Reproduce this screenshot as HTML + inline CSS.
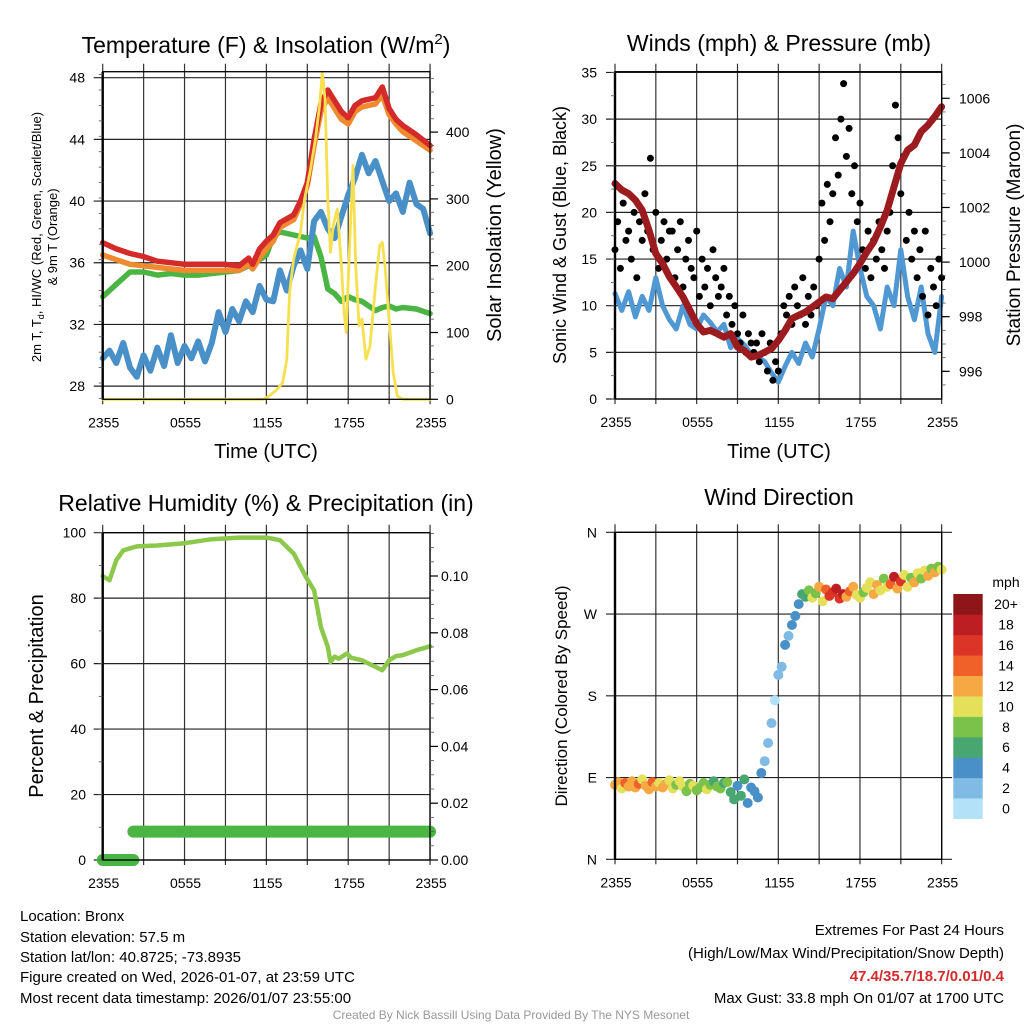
<!DOCTYPE html>
<html><head><meta charset="utf-8"><style>
html,body{margin:0;padding:0;background:#fff;}
svg{display:block;font-family:"Liberation Sans",Arial,sans-serif;}
</style></head><body>
<svg id="chart" width="1024" height="1024" viewBox="0 0 1024 1024" xmlns="http://www.w3.org/2000/svg">
<rect x="0" y="0" width="1024" height="1024" fill="#fff"/>
<g id="grids"></g>
<g id="series"></g>
<g id="frames"></g>
<g id="labels" font-size="14" fill="#000">
  <text x="266" y="53" font-size="23" text-anchor="middle">Temperature (F) &amp; Insolation (W/m<tspan dy="-9" font-size="15">2</tspan><tspan dy="9">)</tspan></text>
  <text transform="translate(41,237) rotate(-90)" font-size="13" text-anchor="middle">2m T, T<tspan dy="3" font-size="9">d</tspan><tspan dy="-3">, HI/WC (Red, Green, Scarlet/Blue)</tspan></text>
  <text transform="translate(57,237) rotate(-90)" font-size="13" text-anchor="middle">&amp; 9m T (Orange)</text>
  <text transform="translate(501,235) rotate(-90)" font-size="20" text-anchor="middle">Solar Insolation (Yellow)</text>
  <text x="266" y="458" font-size="20" text-anchor="middle">Time (UTC)</text>

  <text x="779" y="51" font-size="23" text-anchor="middle">Winds (mph) &amp; Pressure (mb)</text>
  <text transform="translate(566,235) rotate(-90)" font-size="18" text-anchor="middle">Sonic Wind &amp; Gust (Blue, Black)</text>
  <text transform="translate(1020,235) rotate(-90)" font-size="19" text-anchor="middle">Station Pressure (Maroon)</text>
  <text x="779" y="458" font-size="20" text-anchor="middle">Time (UTC)</text>

  <text x="266" y="511" font-size="23" text-anchor="middle">Relative Humidity (%) &amp; Precipitation (in)</text>
  <text transform="translate(43,696) rotate(-90)" font-size="20" text-anchor="middle">Percent &amp; Precipitation</text>

  <text x="779" y="505" font-size="23" text-anchor="middle">Wind Direction</text>
  <text transform="translate(567,696) rotate(-90)" font-size="17" text-anchor="middle">Direction (Colored By Speed)</text>
  <text x="1006" y="587" font-size="14" text-anchor="middle">mph</text>

  <g font-size="15">
  <text x="20" y="921">Location: Bronx</text>
  <text x="20" y="942">Station elevation: 57.5 m</text>
  <text x="20" y="962">Station lat/lon: 40.8725; -73.8935</text>
  <text x="20" y="982">Figure created on Wed, 2026-01-07, at 23:59 UTC</text>
  <text x="20" y="1003">Most recent data timestamp: 2026/01/07 23:55:00</text>
  <text x="1004" y="935" text-anchor="end">Extremes For Past 24 Hours</text>
  <text x="1004" y="958" text-anchor="end">(High/Low/Max Wind/Precipitation/Snow Depth)</text>
  <text x="1004" y="981" text-anchor="end" fill="#d42a2a" font-weight="bold">47.4/35.7/18.7/0.01/0.4</text>
  <text x="1004" y="1003" text-anchor="end">Max Gust: 33.8 mph On 01/07 at 1700 UTC</text>
  </g>
  <text x="511" y="1019" font-size="12" fill="#999" text-anchor="middle">Created By Nick Bassill Using Data Provided By The NYS Mesonet</text>
</g>
<g id="ticklabels" font-size="14"></g>
<g id="colorbar"></g>
</svg>
<script>
// ---------- DATA ----------
var xTickLabels = ["2355","0555","1155","1755","2355"];
var tempTicks = [28,32,36,40,44,48];
var solarTicks = [0,100,200,300,400];
var windTicks = [0,5,10,15,20,25,30,35];
var pressTicks = [996,998,1000,1002,1004,1006];
var rhTicks = [0,20,40,60,80,100];
var precipTicks = [0.00,0.02,0.04,0.06,0.08,0.10];
var dirTicks = [0,90,180,270,360];
var dirTickLabels = ["N","E","S","W","N"];
var speedBins = ["0","2","4","6","8","10","12","14","16","18","20+"];
var speedColors = ["#b3e1f7","#7fbbe4","#4a90c8","#48a671","#7bc24a","#e5e05a","#f6a943","#ef6128","#dc3527","#bd1e24","#8e1518"];

// Temperature panel (hours from 2355 UTC)
var tempHours = [0,1,2,3,4,5,6,7,8,9,10,10.7,11,11.5,12,12.5,13,14,14.5,15,15.5,16,16.5,17,17.5,18,18.5,19,20,20.5,21,21.5,22,23,24];
var tempRed =   [37.3,36.9,36.6,36.4,36.1,36.0,35.9,35.9,35.9,35.9,35.8,36.3,35.9,36.9,37.4,37.8,38.6,39.1,40.0,41.2,44.0,46.3,47.2,46.5,45.8,45.4,46.2,46.5,46.7,47.4,46.0,45.3,44.9,44.3,43.6];
var tempOrange =[36.5,36.2,35.9,35.8,35.7,35.6,35.5,35.5,35.5,35.5,35.5,35.9,35.6,36.3,36.9,37.4,38.3,38.8,39.8,41.0,43.6,45.8,46.7,46.0,45.3,45.0,45.8,46.1,46.3,46.9,45.6,45.0,44.5,43.9,43.3];
var dewGreen =  [33.8,34.6,35.4,35.4,35.2,35.3,35.2,35.2,35.3,35.4,35.5,35.8,36.0,36.2,36.5,37.7,38.0,37.8,37.7,37.6,37.7,36.4,34.3,34.0,33.5,33.8,33.6,33.5,32.9,33.1,33.2,33.0,33.1,33.0,32.7];
var blueHours = [0,0.5,1,1.5,2,2.5,3,3.5,4,4.5,5,5.5,6,6.5,7,7.5,8,8.5,9,9.5,10,10.5,11,11.5,12,12.5,13,13.5,14,14.5,15,15.5,16,16.5,17,17.5,18,18.5,19,19.5,20,20.5,21,21.5,22,22.5,23,23.5,24];
var scarletBlue = [29.8,30.3,29.5,30.8,29.2,28.6,30.0,29.0,30.5,29.3,31.3,29.5,30.6,29.8,30.9,29.6,30.8,32.8,31.5,33.0,32.2,33.5,32.8,34.5,33.6,33.5,35.5,34.2,35.8,36.8,35.6,38.7,39.3,38.2,37.6,39.0,40.4,41.5,43.0,41.8,42.6,41.3,40.0,40.5,39.3,41.2,39.8,39.5,37.9];
var solarHours = [0,11.8,12.2,12.8,13.2,13.5,13.7,14,14.5,14.8,15.2,15.6,15.9,16.1,16.3,16.5,16.7,16.9,17.2,17.5,17.7,17.85,18.1,18.35,18.55,18.8,19.0,19.3,19.6,20.0,20.3,20.5,20.7,21.0,21.3,21.6,22,24];
var solarVals =  [0,0,5,15,25,60,160,210,250,300,340,390,440,490,450,300,220,260,285,200,130,100,230,350,200,110,120,60,80,170,230,235,200,120,40,5,0,0];

// Wind panel
var windSpeed = [11.3,9.5,11.5,8.8,11,9.5,13,10,8.5,7.5,10,8,7.5,9,8.2,7.2,8,5.5,6.5,5.8,4.8,4.5,4,2.8,1.8,3.5,5,3.8,6,4.5,7.5,11,10,14,12,18,14,11,10,7.5,12,10,16,11,8.5,12,7,5,11];
var pressure = [1002.88,1002.64,1002.51,1002.27,1001.90,1001.17,1000.31,999.95,999.46,999.10,998.72,998.23,997.74,997.44,997.50,997.38,997.25,997.38,996.89,996.76,996.52,996.58,996.70,996.83,997.13,997.50,997.93,998.05,998.17,998.35,998.54,998.72,998.66,998.97,999.27,999.58,999.95,1000.37,1000.74,1001.29,1001.90,1002.76,1003.61,1004.10,1004.29,1004.78,1005.02,1005.33,1005.69];
var gust = [16,19,14,21,17,18,15,20,13,19,17,
  22,18,25.8,16,20,14,17,19,15,18,
  18,13,16,19,12,15,17,14,13,18,
  11,15,12,14,10,16,13,11,12,14,
  9,11,8,10,7,6,9,5,7,6,
  5,6,4,7,5,3,6,2,4,3,
  7,10,9,11,8,12,10,9,13,8,
  11,9,12,10,15,21,17,23,19,22,
  28,24,30,33.8,26,29,22,25,19,21,
  16,14,18,13,17,15,19,16,14,18,
  20,25,31.5,28,22,26,17,20,15,18,
  13,16,11,18,9,14,12,10,15,13];

// Humidity panel
var rhHours = [0,0.5,1,1.5,2.5,4,6,8,10,12,13,14,14.9,15.5,16,16.5,16.7,17,17.3,17.9,18.2,19,19.5,20,20.5,21,21.5,22,23,24];
var rhVals =  [86.7,85.5,91.6,94.6,95.8,96.1,96.8,98,98.5,98.5,97.7,93.6,86.5,82.4,71.2,65.1,60.5,62.1,61.5,63.1,61.8,61,60,59,58,61,62.3,62.6,64.1,65.3];
var precipHours = [0,0.5,1,1.5,2,2.25,24];
var precipVals =  [0,0,0,0,0,0.01,0.01];

// Wind direction panel (every 0.25 h)
var dirVals = [82,85,78,84,80,86,79,83,88,
  81,77,85,80,84,79,83,87,
  78,82,86,80,75,83,81,76,
  79,84,77,82,86,80,78,84,
  85,74,66,81,70,88,62,79,
  75,68,95,108,128,150,175,203,
  212,236,246,258,268,281,292,289,
  296,288,293,300,284,297,290,294,
  298,287,292,289,295,300,291,288,
  294,299,305,292,302,296,309,300,
  303,311,298,306,313,300,310,305,
  315,309,318,312,320,316,322,319];
var dirSpeed = [11,12,10,13,12,11,12,13,10,
  12,11,13,12,10,12,11,9,
  9,8,10,9,8,7,9,8,
  8,7,9,8,6,7,8,6,
  7,5,6,4,6,5,4,3,
  4,3,3,2,2,1,0.5,2,
  2,3,2,4,3,4,5,6,
  7,9,8,12,10,14,16,15,
  17,16,18,12,14,11,10,9,
  8,10,9,11,12,10,8,9,
  14,17,12,15,9,10,8,11,
  9,7,10,11,8,12,7,9];

// ---------- SCALES ----------
function X1(h){return 102.7+h*13.64;}
function X2(h){return 615+h*13.61;}
function Yt(t){return 77.7+(48-t)*15.42;}
function Ys(w){return 399.3-w*0.668;}
function Yw(s){return 399-s*9.33;}
function Yp(p){return 98.3+(1006-p)*27.3;}
function Yrh(v){return 860-v*3.273;}
function Ypr(v){return 860-v*2840;}
function Yd(d){return 859.3-d*0.9083;}

var NS="http://www.w3.org/2000/svg";
function el(tag,attrs,parent){var e=document.createElementNS(NS,tag);for(var k in attrs)e.setAttribute(k,attrs[k]);parent.appendChild(e);return e;}
var grids=document.getElementById('grids'),series=document.getElementById('series'),frames=document.getElementById('frames'),tl=document.getElementById('ticklabels'),cb=document.getElementById('colorbar');

function line(x1,y1,x2,y2,parent,w,col){return el('line',{x1:x1,y1:y1,x2:x2,y2:y2,stroke:col||'#000','stroke-width':w||1},parent);}

function panel(L,R,T,B,X,name){
  var g=el('g',{},grids);
  
  
  for(var i=0;i<=8;i++){var x=X(i*3);line(x,T-8,x,B+5,g,1.2,'#333');}
  var f=el('rect',{x:L,y:T,width:R-L,height:B-T,fill:'none',stroke:'#000','stroke-width':1.3},frames);
  
  
  line(L,T,L,B,frames,2.4);
  for(var j=0;j<xTickLabels.length;j++){
    var t=el('text',{x:X(j*6)+1,y:B+28,'text-anchor':'middle'},tl);t.textContent=xTickLabels[j];
    
    
  }
}
function hgrid(vals,Y,L,R,g){for(var i=0;i<vals.length;i++){var y=Y(vals[i]);line(L-9,y,R,y,g,1.2,'#222');}}
function leftLabels(vals,Y,x,name,fmt){for(var i=0;i<vals.length;i++){var t=el('text',{x:x,y:Y(vals[i])+5,'text-anchor':'end'},tl);t.textContent=fmt?fmt(vals[i]):vals[i];
  
  }}
function rightLabels(vals,Y,x,R,name,fmt){for(var i=0;i<vals.length;i++){var y=Y(vals[i]);line(R,y,R+8,y,frames,1.2);var t=el('text',{x:x,y:y+5,'text-anchor':'start'},tl);t.textContent=fmt?fmt(vals[i]):vals[i];
  
  }}
function minor(a,b,step,Y,x,dir){for(var v=a;v<=b+1e-9;v+=step){var y=Y(v);line(x,y,x+dir*4,y,frames,0.8,'#555');}}
function poly(xs,ys,X,Y,col,w,name){var p='';for(var i=0;i<xs.length;i++){p+=(i?'L':'M')+X(xs[i]).toFixed(1)+','+Y(ys[i]).toFixed(1);}
  var e=el('path',{d:p,fill:'none',stroke:col,'stroke-width':w,'stroke-linejoin':'round','stroke-linecap':'round'},series);
  
  
  return e;}

// Panel 1
panel(102.7,430,71.7,399.3,X1,'temperature');
hgrid(tempTicks,Yt,102.7,430,grids);
minor(27.2,48.6,1,Yt,102.7,-1);
minor(0,480,20,Ys,430,1);
leftLabels(tempTicks,Yt,85,'temperature-y');
rightLabels(solarTicks,Ys,446,430,'solar-y');
poly(tempHours,dewGreen,X1,Yt,'#4bb543',5.5,'dewpoint-green-line');
poly(blueHours,scarletBlue,X1,Yt,'#4a90c8',6,'heat-index-blue-line');
poly(tempHours,tempOrange,X1,Yt,'#f08a30',5.5,'temp-9m-orange-line');
poly(tempHours,tempRed,X1,Yt,'#d42a2a',5.5,'temp-2m-red-line');
poly(solarHours,solarVals,X1,Ys,'#f7e04f',2.8,'solar-insolation-line');

// Panel 2
panel(615,941.7,71.7,399,X2,'winds');
hgrid(windTicks,Yw,615,941.7,grids);
minor(0,35,2.5,Yw,615,-1);
minor(995.5,1006.5,0.5,Yp,941.7,1);
leftLabels(windTicks,Yw,597,'wind-y');
rightLabels(pressTicks,Yp,959,941.7,'pressure-y');
var wh=[];for(var i=0;i<windSpeed.length;i++)wh.push(i*0.5);
poly(wh,windSpeed,X2,Yw,'#4f98d4',5,'sonic-wind-line');
for(var i=0;i<gust.length;i++){
  var c=el('circle',{cx:X2(i*0.2).toFixed(1),cy:Yw(gust[i]).toFixed(1),r:3.5,fill:'#000'},series);
  
  
}
var ph=[];for(var i=0;i<pressure.length;i++)ph.push(i*0.5);
poly(ph,pressure,X2,Yp,'#9b1b1e',7,'pressure-line');

// Panel 3
panel(102.7,430,532.7,860,X1,'humidity');
hgrid(rhTicks,Yrh,102.7,430,grids);
minor(0,100,10,Yrh,102.7,-1);
minor(0,0.115,0.005,Ypr,430,1);
leftLabels(rhTicks,Yrh,86,'humidity-y');
rightLabels(precipTicks,Ypr,441,430,'precip-y',function(v){return v.toFixed(2);});
poly(rhHours,rhVals,X1,Yrh,'#8cc84b',4.5,'relative-humidity-line');
for(var i=0;i<precipHours.length-1;i++){
  var s=el('line',{x1:X1(precipHours[i]),y1:Ypr(precipVals[i]),x2:X1(precipHours[i+1]),y2:Ypr(precipVals[i]),stroke:'#4bb543','stroke-width':12,'stroke-linecap':'round'},series);
  
  
}

// Panel 4
panel(615,941.7,532.3,859.3,X2,'direction');
hgrid(dirTicks,Yd,615,952,grids);
for(var i=0;i<dirTicks.length;i++){var t=el('text',{x:597,y:Yd(dirTicks[i])+5,'text-anchor':'end'},tl);t.textContent=dirTickLabels[i];
  
  }
function colorFor(s){var k=Math.min(10,Math.max(0,Math.round(s/2)));return speedColors[k];}
for(var i=0;i<dirVals.length;i++){
  var c=el('circle',{cx:X2(i*0.25).toFixed(1),cy:Yd(dirVals[i]).toFixed(1),r:5,fill:colorFor(dirSpeed[i])},series);
  
  
}
var bh=(818.7-594)/speedBins.length;
for(var i=0;i<speedBins.length;i++){
  var y=818.7-(i+1)*bh;
  var r=el('rect',{x:953.3,y:y.toFixed(1),width:29.4,height:(bh+0.3).toFixed(1),fill:speedColors[i]},cb);
  
  
  var t=el('text',{x:1006,y:(y+bh/2+5).toFixed(1),'text-anchor':'middle','font-size':14},cb);t.textContent=speedBins[i];
  
  
}
</script>
</body></html>
